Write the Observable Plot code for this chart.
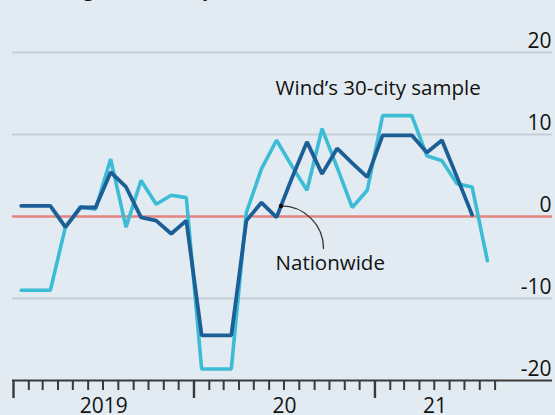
<!DOCTYPE html>
<html><head><meta charset="utf-8">
<script src="https://cdn.jsdelivr.net/npm/d3@7"></script>
<script src="https://cdn.jsdelivr.net/npm/@observablehq/plot@0.6"></script>
<style>
html,body{margin:0;padding:0;background:#e2ebf1;}
#chart{width:555px;height:415px;overflow:hidden;}
</style></head><body><div id="chart"></div>
<script>
// ---- data ----
const months = ["2019-01","2019-02","2019-03","2019-04","2019-05","2019-06","2019-07","2019-08","2019-09","2019-10","2019-11","2019-12",
                "2020-01","2020-02","2020-03","2020-04","2020-05","2020-06","2020-07","2020-08","2020-09","2020-10","2020-11","2020-12",
                "2021-01","2021-02","2021-03","2021-04","2021-05","2021-06","2021-07","2021-08"];
const nationwide = [1.3,1.3,1.3,-1.3,1.1,1.1,5.4,3.6,-0.1,-0.5,-2.1,-0.5,-14.5,-14.5,-14.5,-0.5,1.7,-0.1,4.6,9.1,5.2,8.3,6.5,4.8,9.9,9.9,9.9,7.8,9.3,4.8,0.2];
const wind30 = [-9.0,-9.0,-9.0,-1.3,1.2,0.9,7.0,-1.3,4.4,1.5,2.6,2.3,-18.6,-18.6,-18.6,0.5,5.8,9.3,6.2,3.2,10.7,6.0,1.1,3.2,12.3,12.3,12.3,7.4,6.8,4.0,3.6,-5.4];
const yTicks = [-20,-10,0,10,20];
const yearLabels = ["2019","20","21"];
const yearStarts = ["2019-01","2020-01","2021-01"];
const axisStart = "2019-01";
const axisEnd = "2021-09";
const subtitle = "Housing turnover by floor area, %";
const labels = [
  {text:"Wind\u2019s 30-city sample", date:"2020-06-14", value:14.8},
  {text:"Nationwide", date:"2020-06-14", value:-6.5}
];
const pointer = {from:"2020-06-25", toDate:"2020-09-19", toValue:-3.9};

// ---- build ----
const parse = d3.utcParse("%Y-%m");
const parseDay = d3.utcParse("%Y-%m-%d");
const mid = d => new Date((+d + +d3.utcMonth.offset(d,1))/2);
const dates = months.map(m => mid(parse(m)));
const natData = nationwide.map((v,i) => ({date: dates[i], value: v}));
const windData = wind30.map((v,i) => ({date: dates[i], value: v}));
const t0 = parse(axisStart), t1 = parse(axisEnd);
const ticks = d3.utcMonth.range(t0, d3.utcMonth.offset(t1,1));
const minor = ticks.filter(d => d.getUTCMonth() !== 0);
const major = ticks.filter(d => d.getUTCMonth() === 0);
const yearPos = yearStarts.map((s,i) => {
  const a = parse(s);
  const b = i < yearStarts.length-1 ? parse(yearStarts[i+1]) : t1;
  return {date: new Date((+a + +b)/2), text: yearLabels[i]};
});
// interpolate nationwide value at pointer date
const pd = parseDay(pointer.from);
const j = d3.bisector(d => d.date).right(natData, pd) - 1;
const tt = (pd - natData[j].date) / (natData[j+1].date - natData[j].date);
const pv = natData[j].value + tt*(natData[j+1].value - natData[j].value);
const arrowData = [{x1: pd, y1: pv, x2: parseDay(pointer.toDate), y2: pointer.toValue}];
const labelData = labels.map(l => ({...l, date: parseDay(l.date)}));

const ink = "#121212";
const chart = Plot.plot({
  width: 555, height: 415,
  marginLeft: 12, marginRight: 3, marginTop: 52, marginBottom: 35,
  style: {background: "#e2ebf1", fontFamily: "'Open Sans', sans-serif", fontSize: "20px", color: ink},
  x: {type: "utc", domain: [t0, t1], range: [13, 494.6], axis: null},
  y: {domain: [-20, 20], range: [380, 52], axis: null},
  marks: [
    Plot.ruleY([-10,10,20], {stroke: "#c6cfd6", strokeWidth: 2}),
    Plot.ruleY([0], {stroke: "#e6837f", strokeWidth: 2.6}),
    Plot.line(windData, {x: "date", y: "value", stroke: "#3dbcd6", strokeWidth: 3.6, strokeLinejoin: "miter"}),
    Plot.line(natData, {x: "date", y: "value", stroke: "#1c5f96", strokeWidth: 3.8, strokeLinejoin: "miter"}),
    Plot.ruleY([-20], {stroke: "#3a3a3a", strokeWidth: 2.2}),
    Plot.ruleX(minor, {x: d => d, y1: -20, y2: -20, insetBottom: -10, stroke: "#3a3a3a", strokeWidth: 2}),
    Plot.ruleX(major, {x: d => d, y1: -20, y2: -20, insetBottom: -18, stroke: "#3a3a3a", strokeWidth: 2.4}),
    Plot.text(yTicks, {y: d => d, text: d => String(d), frameAnchor: "right", textAnchor: "end", lineAnchor: "bottom", dy: -5, dx: -1, fontSize: 21, fill: ink}),
    Plot.text(yearPos, {x: "date", text: "text", frameAnchor: "bottom", lineAnchor: "bottom", dy: 32, fontSize: 21, fill: ink}),
    Plot.arrow(arrowData, {x1: "x1", y1: "y1", x2: "x2", y2: "y2", bend: 45, headLength: 0, stroke: "#333", strokeWidth: 1.3}),
    Plot.dot(arrowData, {x: "x1", y: "y1", r: 2.2, fill: "#111", stroke: null}),
    Plot.text(labelData, {x: "date", y: "value", text: "text", textAnchor: "start", lineAnchor: "bottom", fontSize: 20.5, fill: ink}),
    Plot.text([subtitle], {text: d => d, frameAnchor: "top-left", textAnchor: "start", lineAnchor: "bottom", dx: 1, dy: -57, fontSize: 21, fill: ink})
  ]
});
document.getElementById("chart").appendChild(chart);
</script></body></html>
